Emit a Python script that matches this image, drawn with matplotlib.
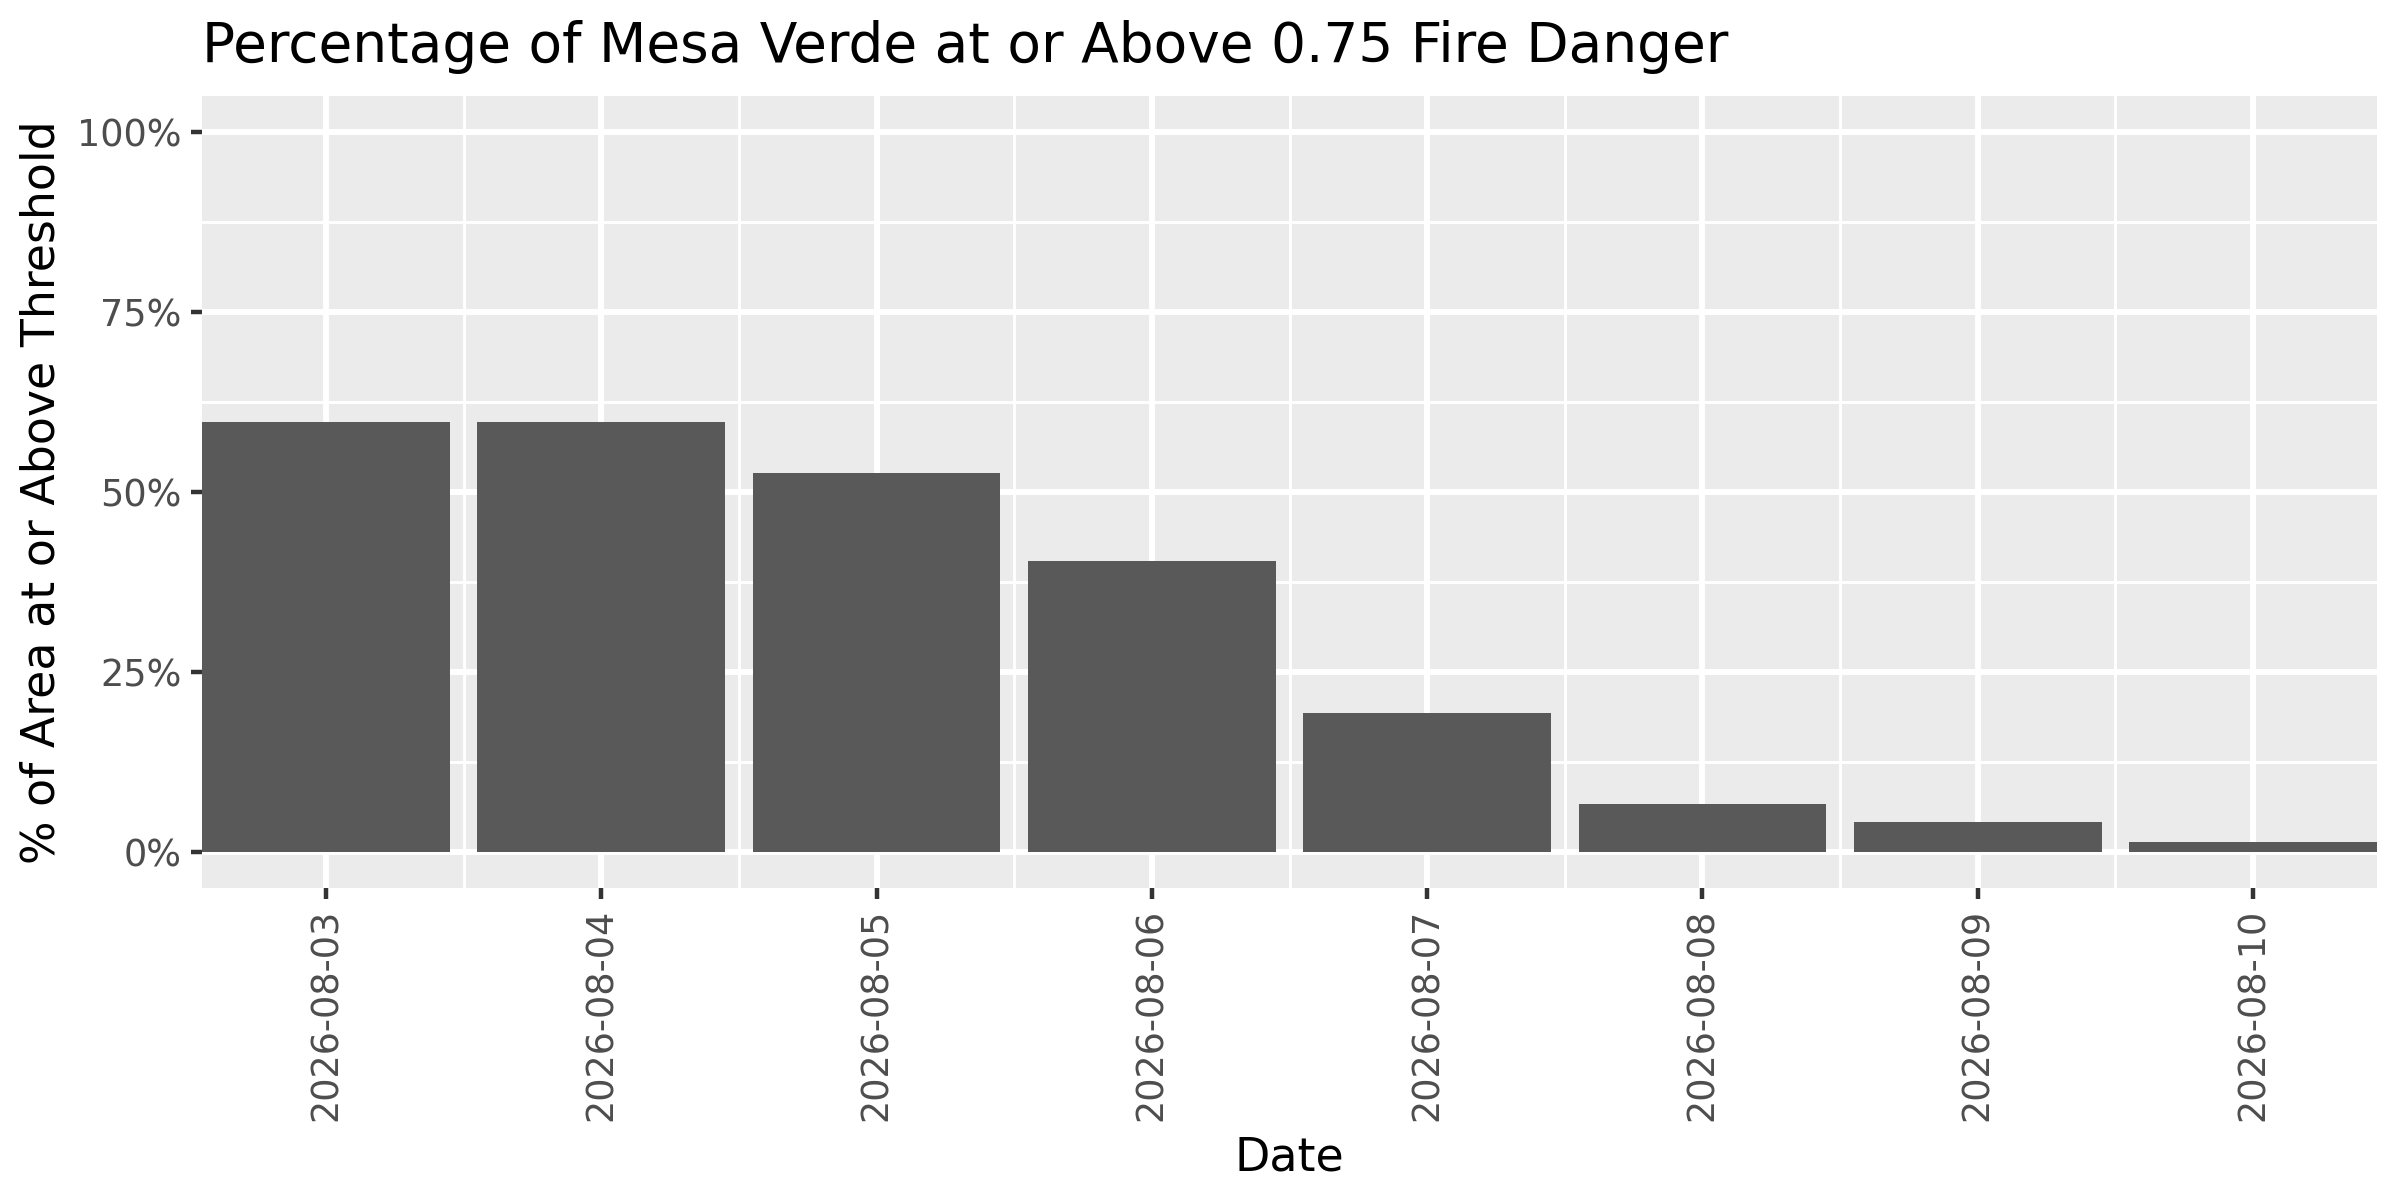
import matplotlib
matplotlib.use("Agg")
import matplotlib.pyplot as plt
import numpy as np

dates = ["2026-08-03", "2026-08-04", "2026-08-05", "2026-08-06",
         "2026-08-07", "2026-08-08", "2026-08-09", "2026-08-10"]
pct_above = [0.598, 0.598, 0.527, 0.404, 0.193, 0.066, 0.042, 0.014]
y_ticks = [0, 0.25, 0.5, 0.75, 1.0]
y_tick_labels = ["0%", "25%", "50%", "75%", "100%"]

plt.rcParams['font.family'] = ['DejaVu Sans']
fig = plt.figure(figsize=(8, 4), dpi=300)
ax = fig.add_axes([0.0842, 0.2602, 0.9904 - 0.0842, 0.9196 - 0.2602])
ax.set_facecolor("#EBEBEB")

x = np.arange(1, len(dates) + 1)
ax.set_axisbelow(True)
ax.bar(x, pct_above, width=0.9, color="#595959", zorder=3)

ax.set_xlim(0.55, len(dates) + 0.45)
ax.set_ylim(-0.05, 1.05)
ax.set_yticks(y_ticks)
ax.set_yticklabels(y_tick_labels)
ax.set_yticks([0.125, 0.375, 0.625, 0.875], minor=True)
ax.set_xticks(x)
ax.set_xticklabels(dates, rotation=90)
ax.set_xticks(x[:-1] + 0.5, minor=True)

ax.grid(which="major", color="white", linewidth=1.42, zorder=1)
ax.grid(which="minor", color="white", linewidth=0.71, zorder=1)
for s in ax.spines.values():
    s.set_visible(False)
ax.tick_params(which="major", length=2.75, width=1.07, color="#333333",
               labelcolor="#4D4D4D", labelsize=8.8, pad=2.2)
ax.tick_params(which="minor", length=0)

fig.text(0.0842, 0.948, "Percentage of Mesa Verde at or Above 0.75 Fire Danger",
         fontsize=13.2, color="black", ha="left", va="baseline")
ax.set_xlabel("Date", fontsize=11, color="black", labelpad=3.5)
ax.set_ylabel("% of Area at or Above Threshold", fontsize=11, color="black", labelpad=3)

fig.savefig("out.png", dpi=300, facecolor="white")
